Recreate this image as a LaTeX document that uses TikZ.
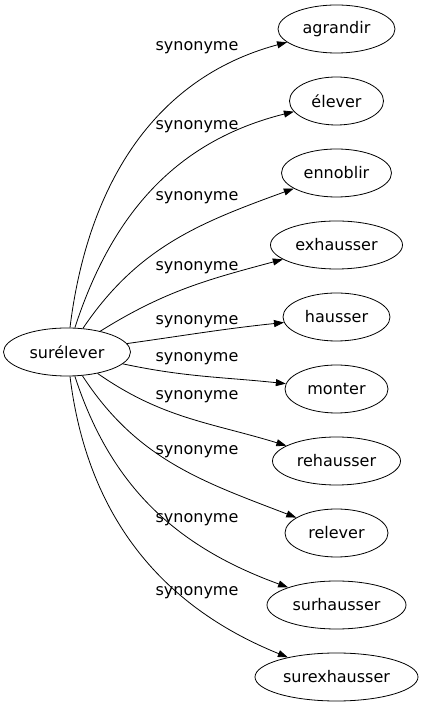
\documentclass[tikz,border=0pt]{standalone}
\usepackage{fontspec}
\setmainfont{DejaVu Sans}
\usetikzlibrary{arrows.meta, shapes.geometric, positioning}

\begin{document}
\begin{tikzpicture}[x=1pt, y=1pt,
		word/.style={ellipse, draw, line width=0.8pt, minimum height=48pt, inner sep=0pt, font=\fontsize{16}{19}\selectfont},
		rel/.style={font=\fontsize{16}{19}\selectfont},
		syn/.style={line width=0.8pt, -{Triangle[length=10pt, width=7pt]}}]
		\useasboundingbox (0,0) rectangle (423,707);
		% headword
		\node [word, minimum width=127pt] (surelever) at (67,355) {surélever};
		% synonyms: name/text/width/out/in/label height
		\foreach \n/\t/\w/\o/\i/\l [count=\k] in {
				agrandir/agrandir/117/83/195/659,
				elever/élever/94/72/194/580,
				ennoblir/ennoblir/110/56/200/509,
				exhausser/exhausser/132/32/195/439,
				hausser/hausser/107/8/186/385,
				monter/monter/103/-12/174/348,
				rehausser/rehausser/128/-35/163/310,
				relever/relever/103/-57/159/255,
				surhausser/surhausser/139/-72/160/187,
				surexhausser/surexhausser/163/-83/158/114}{
			\node [word, minimum width=\w pt] (\n) at (336.5,750-72*\k) {\t};
			\node [rel] (lbl\k) at (197,\l) {synonyme};
			\draw [syn] (surelever) to [out=\o, in=\i] (\n);
		}
	\end{tikzpicture}
\end{document}
